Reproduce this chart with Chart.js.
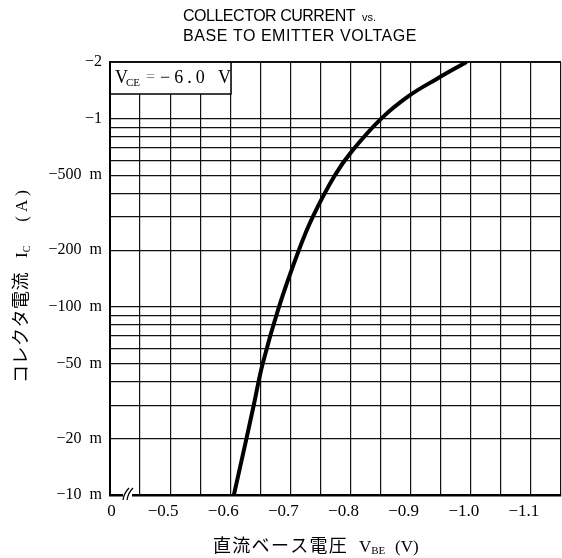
<!DOCTYPE html>
<html>
<head>
<meta charset="utf-8">
<script src="https://cdn.jsdelivr.net/npm/chart.js@4.4.0/dist/chart.umd.min.js"></script>
<style>
  html, body { margin: 0; padding: 0; background: #fff; }
  #wrap { width: 562px; height: 558px; position: relative; }
</style>
</head>
<body>
<div id="wrap"><canvas id="chart"></canvas></div>
<script>
// V_BE (V) against I_C (A)
const vbe = [-0.606, -0.627, -0.639, -0.654, -0.681, -0.714, -0.737, -0.774, -0.802, -0.851, -0.897, -0.944, -0.993];
const ic  = [-0.010, -0.020, -0.030, -0.050, -0.100, -0.200, -0.300, -0.500, -0.670, -1.000, -1.320, -1.630, -2.000];

// x axis: left edge is the broken "0"
const vbeTicks = [-0.4, -0.5, -0.6, -0.7, -0.8, -0.9, -1.0, -1.1];
const vbeTickLabels = ['\u2007\u20070', '−0.5', '−0.6', '−0.7', '−0.8', '−0.9', '−1.0', '−1.1'];
const vbeGrid = [-1.15, -1.1, -1.05, -1.0, -0.95, -0.9, -0.85, -0.8, -0.75, -0.7, -0.65, -0.6, -0.55, -0.5, -0.45, -0.4];

// y axis (log)
const icTicks = [-2, -1, -0.5, -0.2, -0.1, -0.05, -0.02, -0.01];
const icTickLabels = ['−2', '−1', '−500  m', '−200  m', '−100  m', '−50  m', '−20  m', '−10  m'];
const icGrid = [-0.01, -0.02, -0.03, -0.04, -0.05, -0.06, -0.07, -0.08, -0.09,
                -0.1, -0.2, -0.3, -0.4, -0.5, -0.6, -0.7, -0.8, -0.9, -1, -2];

const SERIF = '"Liberation Serif", "DejaVu Serif", serif';
const SANS = '"Liberation Sans", Arial, sans-serif';
const CJK = '"Noto Sans CJK JP", sans-serif';

function labelFor(ticks, labels, v) {
  const i = ticks.findIndex(t => Math.abs(Math.abs(t) - Math.abs(v)) < 1e-9);
  return i === -1 ? '' : labels[i];
}

// draw a run of text pieces one after another
function runText(ctx, parts, x, y) {
  let w = 0;
  parts.forEach(p => {
    ctx.font = p.font;
    ctx.letterSpacing = (p.ls || 0) + 'px';
    ctx.fillText(p.t, x + w, y + (p.dy || 0));
    w += ctx.measureText(p.t).width + (p.gap || 0);
  });
  ctx.letterSpacing = '0px';
}

// squeeze/stretch a line to a given width
function fitText(ctx, text, x, y, width) {
  ctx.letterSpacing = '0px';
  const w = ctx.measureText(text).width;
  ctx.letterSpacing = ((width - w) / text.length) + 'px';
  ctx.fillText(text, x, y);
  ctx.letterSpacing = '0px';
}

const decor = {
  id: 'decor',
  beforeDatasetsDraw(chart) {
    const ctx = chart.ctx;
    const a = chart.chartArea;
    ctx.save();
    // V_CE box in the top left corner
    ctx.fillStyle = '#fff';
    ctx.fillRect(a.left + 1, a.top + 1, 120, 31);
    ctx.strokeStyle = '#000';
    ctx.lineWidth = 1.5;
    ctx.beginPath();
    ctx.moveTo(a.left, a.top + 32);
    ctx.lineTo(a.left + 121, a.top + 32);
    ctx.lineTo(a.left + 121, a.top);
    ctx.stroke();
    ctx.fillStyle = '#000';
    ctx.textBaseline = 'alphabetic';
    ctx.font = '18px ' + SERIF;
    ctx.fillText('V', a.left + 5, a.top + 21);
    ctx.font = '11px ' + SERIF;
    ctx.fillText('CE', a.left + 16, a.top + 24);
    ctx.fillStyle = '#888';
    ctx.font = '16px ' + SERIF;
    ctx.fillText('=', a.left + 36, a.top + 20);
    ctx.fillStyle = '#000';
    ctx.font = '18px ' + SERIF;
    ctx.letterSpacing = '4px';
    ctx.fillText('−6.0', a.left + 50, a.top + 21);
    ctx.letterSpacing = '0px';
    ctx.fillText('V', a.left + 108, a.top + 21);

    // axis break on the bottom line
    const bx = a.left + 13;
    ctx.fillStyle = '#fff';
    ctx.fillRect(bx, a.bottom - 3, 9, 6);
    ctx.strokeStyle = '#000';
    ctx.lineWidth = 1.3;
    [0, 4].forEach(d => {
      ctx.beginPath();
      ctx.moveTo(bx + d, a.bottom + 5);
      ctx.quadraticCurveTo(bx + d + 1, a.bottom - 2, bx + d + 6, a.bottom - 7);
      ctx.stroke();
    });
    ctx.restore();
  },
  afterDraw(chart) {
    const ctx = chart.ctx;
    ctx.save();
    ctx.fillStyle = '#000';
    ctx.textBaseline = 'alphabetic';

    // title
    ctx.font = '16px ' + SANS;
    fitText(ctx, 'COLLECTOR CURRENT', 183, 21, 172);
    fitText(ctx, 'BASE TO EMITTER VOLTAGE', 183, 41, 234);
    ctx.font = '11px ' + SANS;
    ctx.fillText('vs.', 362, 21);

    // x axis title
    runText(ctx, [{ t: '直流ベース電圧', font: '18px ' + CJK, ls: 1.3 }], 213, 552);
    runText(ctx, [
      { t: 'V', font: '17px ' + SERIF },
      { t: 'BE', font: '11px ' + SERIF, dy: 2 }
    ], 359, 552);
    runText(ctx, [{ t: '(V)', font: '17px ' + SERIF }], 395, 552);

    // y axis title, rotated, reading bottom to top
    ctx.translate(27, 383);
    ctx.rotate(-Math.PI / 2);
    runText(ctx, [
      { t: 'コレクタ電流', font: '18px ' + CJK, ls: 0.5, gap: 14 },
      { t: 'I', font: '17px ' + SERIF },
      { t: 'C', font: '10px ' + SERIF, dy: 3, gap: 24 },
      { t: '(A)', font: '17px ' + SERIF, ls: 4 }
    ], 0, 0);
    ctx.restore();
  }
};

new Chart(document.getElementById('chart'), {
  type: 'line',
  data: {
    datasets: [{
      data: vbe.map((v, i) => ({ x: v, y: Math.abs(ic[i]) })),
      borderColor: '#000',
      borderWidth: 4,
      pointRadius: 0,
      fill: false,
      tension: 0.4
    }]
  },
  options: {
    responsive: true,
    maintainAspectRatio: false,
    animation: false,
    events: [],
    layout: { padding: { top: 62, right: 1, left: 0, bottom: 0 } },
    plugins: { legend: { display: false }, tooltip: { enabled: false }, title: { display: false } },
    scales: {
      x: {
        type: 'linear',
        reverse: true,
        min: -1.15,
        max: -0.4,
        afterBuildTicks: s => { s.ticks = vbeGrid.map(v => ({ value: v })); },
        afterFit: s => { s.height = 63; },
        grid: { color: '#111', lineWidth: 1.2, drawTicks: false },
        border: { color: '#000', width: 2.5 },
        ticks: {
          autoSkip: false,
          maxRotation: 0,
          padding: 6,
          labelOffset: -7,
          color: '#000',
          font: { family: SERIF, size: 17 },
          callback: v => labelFor(vbeTicks, vbeTickLabels, v)
        }
      },
      y: {
        type: 'logarithmic',
        min: 0.01,
        max: 2,
        afterBuildTicks: s => { s.ticks = icGrid.map(v => ({ value: Math.abs(v) })); },
        afterFit: s => { s.width = 110; },
        grid: {
          color: '#111',
          lineWidth: c => (c.tick && c.tick.value === 2 ? 2 : 1.2),
          drawTicks: false
        },
        border: { color: '#000', width: 2 },
        ticks: {
          autoSkip: false,
          padding: 8,
          color: '#000',
          font: { family: SERIF, size: 16 },
          callback: v => labelFor(icTicks, icTickLabels, v)
        }
      }
    }
  },
  plugins: [decor]
});
</script>
</body>
</html>
